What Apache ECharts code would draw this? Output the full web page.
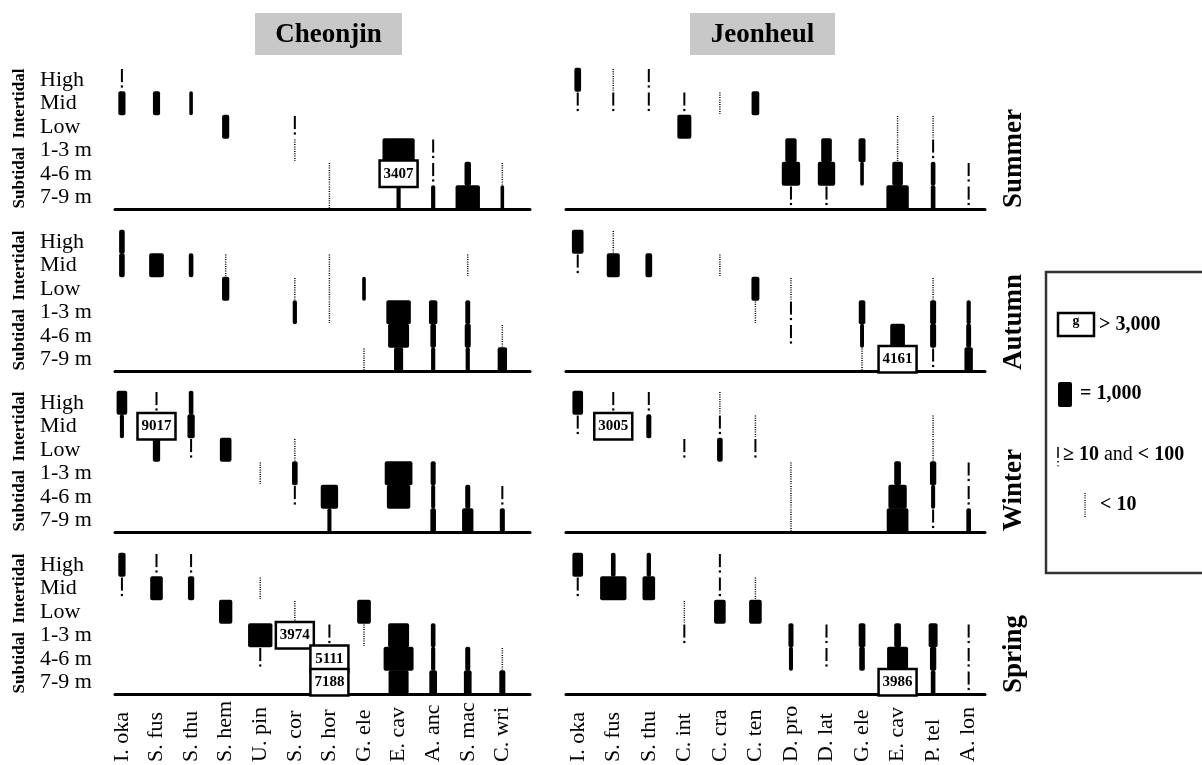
<!DOCTYPE html>
<html>
<head>
<meta charset="utf-8">
<script src="https://cdn.jsdelivr.net/npm/echarts@6/dist/echarts.min.js"></script>
<style>
html,body{margin:0;padding:0;background:#fff;}
#chart{width:1202px;height:765px;}
</style>
</head>
<body>
<div id="chart"></div>
<script>
// ---- categories ----
const sites = ['Cheonjin', 'Jeonheul'];
const seasons = ['Summer', 'Autumn', 'Winter', 'Spring'];
const zones = ['High', 'Mid', 'Low', '1-3 m', '4-6 m', '7-9 m'];
const speciesCheonjin = ['I. oka', 'S. fus', 'S. thu', 'S. hem', 'U. pin', 'S. cor', 'S. hor', 'G. ele', 'E. cav', 'A. anc', 'S. mac', 'C. wri'];
const speciesJeonheul = ['I. oka', 'S. fus', 'S. thu', 'C. int', 'C. cra', 'C. ten', 'D. pro', 'D. lat', 'G. ele', 'E. cav', 'P. tel', 'A. lon'];

// ---- data: [speciesIndex, zoneIndex, density] ; 5 = "< 10", 50 = ">= 10 and < 100" ----
const cheonjinSummer = [
  [0,0,50],[0,1,510],
  [1,1,510],
  [2,1,255],
  [3,2,510],
  [5,2,50],[5,3,5],
  [6,4,5],[6,5,5],
  [8,3,2300],[8,4,3407],[8,5,300],
  [9,3,50],[9,4,50],[9,5,300],
  [10,4,460],[10,5,1740],
  [11,4,5],[11,5,255]
];
const cheonjinAutumn = [
  [0,0,400],[0,1,400],
  [1,1,1050],
  [2,1,330],
  [3,1,5],[3,2,520],
  [5,2,5],[5,3,300],
  [6,1,5],[6,2,5],[6,3,5],
  [7,2,260],[7,5,5],
  [8,3,1750],[8,4,1500],[8,5,650],
  [9,3,600],[9,4,400],[9,5,300],
  [10,1,5],[10,3,350],[10,4,430],[10,5,300],
  [11,4,5],[11,5,670]
];
const cheonjinWinter = [
  [0,0,760],[0,1,290],
  [1,0,50],[1,1,9017],[1,2,520],
  [2,0,330],[2,1,520],[2,2,50],
  [3,2,830],
  [4,3,5],
  [5,2,5],[5,3,400],[5,4,50],
  [6,4,1240],[6,5,290],
  [8,3,1980],[8,4,1670],
  [9,3,360],[9,4,290],[9,5,400],
  [10,4,360],[10,5,810],
  [11,4,50],[11,5,360]
];
const cheonjinSpring = [
  [0,0,520],[0,1,50],
  [1,0,50],[1,1,900],
  [2,0,50],[2,1,450],
  [3,2,950],
  [4,1,5],[4,3,1740],[4,4,50],
  [5,2,5],[5,3,3974],
  [6,3,50],[6,4,5111],[6,5,7188],
  [7,2,980],[7,3,5],
  [8,3,1500],[8,4,2140],[8,5,1430],
  [9,3,330],[9,4,300],[9,5,550],
  [10,4,360],[10,5,550],
  [11,4,5],[11,5,430]
];
const jeonheulSummer = [
  [0,0,480],[0,1,50],
  [1,0,5],[1,1,50],
  [2,0,50],[2,1,50],
  [3,1,50],[3,2,1000],
  [4,1,5],
  [5,1,550],
  [6,3,810],[6,4,1310],[6,5,50],
  [7,3,760],[7,4,1240],[7,5,50],
  [8,3,500],[8,4,260],
  [9,2,5],[9,3,5],[9,4,760],[9,5,1600],
  [10,2,5],[10,3,50],[10,4,330],[10,5,330],
  [11,4,50],[11,5,50]
];
const jeonheulAutumn = [
  [0,0,830],[0,1,50],
  [1,0,5],[1,1,930],
  [2,1,480],
  [4,1,5],
  [5,2,570],[5,3,5],
  [6,2,5],[6,3,50],[6,4,50],
  [8,3,470],[8,4,280],[8,5,5],
  [9,4,1050],[9,5,4161],
  [10,2,5],[10,3,430],[10,4,430],[10,5,50],
  [11,3,300],[11,4,350],[11,5,600]
];
const jeonheulWinter = [
  [0,0,760],[0,1,50],
  [1,0,50],[1,1,3005],
  [2,0,50],[2,1,360],
  [3,2,50],
  [4,0,5],[4,1,50],[4,2,400],
  [5,1,5],[5,2,50],
  [6,3,5],[6,4,5],[6,5,5],
  [9,3,480],[9,4,1310],[9,5,1550],
  [10,1,5],[10,2,5],[10,3,450],[10,4,290],[10,5,50],
  [11,3,50],[11,4,50],[11,5,330]
];
const jeonheulSpring = [
  [0,0,760],[0,1,50],
  [1,0,330],[1,1,1880],
  [2,0,310],[2,1,900],
  [3,2,5],[3,3,50],
  [4,0,50],[4,1,50],[4,2,830],
  [5,1,5],[5,2,900],
  [6,3,360],[6,4,290],
  [7,3,50],[7,4,50],
  [8,3,480],[8,4,400],
  [9,3,480],[9,4,1500],[9,5,3986],
  [10,3,640],[10,4,450],[10,5,330],
  [11,3,50],[11,4,50],[11,5,50]
];

// ---- layout ----
const SERIF = '"Liberation Serif", "Times New Roman", serif';
const PX_PER_1000 = 14;
const rowTops = [68, 230, 391, 553];
const PANEL_H = 141;
const colLeft = [115, 566];
const colWidth = [415, 419];
const colMin = [-0.2, -0.33];
const colMax = [11.8, 11.46];
const panelData = [
  [cheonjinSummer, jeonheulSummer],
  [cheonjinAutumn, jeonheulAutumn],
  [cheonjinWinter, jeonheulWinter],
  [cheonjinSpring, jeonheulSpring]
];
const speciesBySite = [speciesCheonjin, speciesJeonheul];

function renderKite(params, api) {
  const i = api.value(0), z = api.value(1), v = api.value(2);
  const p = api.coord([i, z]);
  const band = api.size([0, 1])[1];
  const top = p[1] - band / 2, bottom = p[1] + band / 2;
  if (v < 10) {
    return {type: 'line', shape: {x1: p[0], y1: top + 1, x2: p[0], y2: bottom - 1},
      style: {stroke: '#000', lineWidth: 1.5, lineDash: [1, 1.3]}};
  }
  if (v < 100) {
    return {type: 'group', children: [
      {type: 'line', shape: {x1: p[0], y1: top + 1, x2: p[0], y2: top + band * 0.6},
        style: {stroke: '#000', lineWidth: 2}},
      {type: 'rect', shape: {x: p[0] - 1.1, y: top + band * 0.74, width: 2.2, height: 2.2},
        style: {fill: '#000'}}
    ]};
  }
  if (v <= 3000) {
    const w = Math.max(1.5, v / 1000 * PX_PER_1000);
    return {type: 'rect', shape: {x: p[0] - w / 2, y: top - 0.3, width: w, height: band + 0.6, r: 2},
      style: {fill: '#000'}};
  }
  return {type: 'rect', z2: 10,
    shape: {x: p[0] - 19, y: top - 1.5, width: 38, height: band + 3},
    style: {fill: '#fff', stroke: '#000', lineWidth: 2.5},
    textContent: {z2: 11, style: {text: String(v), fontSize: 15, fontWeight: 'bold', fontFamily: SERIF, fill: '#000'}},
    textConfig: {position: 'inside'}};
}

const grids = [], xAxes = [], yAxes = [], series = [];
let k = 0;
for (let r = 0; r < 4; r++) {
  for (let c = 0; c < 2; c++) {
    grids.push({left: colLeft[c], top: rowTops[r], width: colWidth[c], height: PANEL_H, outerBoundsMode: 'none', containLabel: false});
    const names = speciesBySite[c];
    xAxes.push({
      gridIndex: k, type: 'value', min: colMin[c], max: colMax[c],
      axisLine: {show: true, onZero: false, lineStyle: {color: '#000', width: 3}},
      axisTick: {show: false}, splitLine: {show: false},
      axisLabel: r === 3 ? {
        show: true, customValues: names.map((_, idx) => idx),
        formatter: v => names[Math.round(v)], hideOverlap: false,
        rotate: 90, align: 'left', verticalAlign: 'middle', margin: 68,
        fontFamily: SERIF, fontSize: 22, color: '#000'
      } : {show: false}
    });
    yAxes.push({
      gridIndex: k, type: 'category', data: zones, inverse: true,
      axisLine: {show: false}, axisTick: {show: false}, splitLine: {show: false},
      axisLabel: c === 0 ? {show: true, interval: 0, hideOverlap: false, align: 'left', margin: colLeft[0] - 40, fontFamily: SERIF, fontSize: 22, color: '#000'} : {show: false}
    });
    series.push({
      type: 'custom', name: sites[c] + ' ' + seasons[r], coordinateSystem: 'cartesian2d',
      xAxisIndex: k, yAxisIndex: k, data: panelData[r][c], renderItem: renderKite,
      encode: {x: 0, y: 1}, clip: false, silent: true
    });
    k++;
  }
}

const graphics = [];
// titles
[[255, 402], [690, 835]].forEach((b, c) => {
  graphics.push({type: 'rect', shape: {x: b[0], y: 13, width: b[1] - b[0], height: 42}, style: {fill: '#c8c8c8'}});
  graphics.push({type: 'text', x: (b[0] + b[1]) / 2, y: 35,
    style: {text: sites[c], fontSize: 27, fontWeight: 'bold', fontFamily: SERIF, fill: '#000',
      align: 'center', verticalAlign: 'middle', textAlign: 'center', textVerticalAlign: 'middle'}});
});
// rotated side labels
for (let r = 0; r < 4; r++) {
  graphics.push({type: 'text', x: 20, y: rowTops[r] + PANEL_H / 2, rotation: Math.PI / 2,
    style: {text: 'Subtidal  Intertidal', fontSize: 17, fontWeight: 'bold', fontFamily: SERIF, fill: '#000',
      align: 'center', verticalAlign: 'middle', textAlign: 'center', textVerticalAlign: 'middle'}});
  graphics.push({type: 'text', x: 1014, y: rowTops[r] + PANEL_H - 1, rotation: Math.PI / 2,
    style: {text: seasons[r], fontSize: 27, fontWeight: 'bold', fontFamily: SERIF, fill: '#000',
      align: 'left', verticalAlign: 'middle', textAlign: 'left', textVerticalAlign: 'middle'}});
}
// legend
const LF = {fontSize: 20, fontWeight: 'bold', fontFamily: SERIF, fill: '#000', align: 'left', verticalAlign: 'middle', textAlign: 'left', textVerticalAlign: 'middle'};
graphics.push({type: 'rect', shape: {x: 1046, y: 272, width: 170, height: 301}, style: {fill: 'none', stroke: '#333', lineWidth: 2.5}});
graphics.push({type: 'rect', shape: {x: 1058, y: 313, width: 36, height: 23}, style: {fill: '#fff', stroke: '#000', lineWidth: 2.5}});
graphics.push({type: 'text', x: 1076, y: 321, style: Object.assign({}, LF, {text: 'g', fontSize: 14, align: 'center', textAlign: 'center'})});
graphics.push({type: 'text', x: 1099, y: 325, style: Object.assign({}, LF, {text: '> 3,000'})});
graphics.push({type: 'rect', shape: {x: 1058, y: 382, width: 14, height: 25, r: 2}, style: {fill: '#000'}});
graphics.push({type: 'text', x: 1080, y: 394, style: Object.assign({}, LF, {text: '= 1,000'})});
graphics.push({type: 'line', shape: {x1: 1058, y1: 447, x2: 1058, y2: 458}, style: {stroke: '#000', lineWidth: 1.5}});
graphics.push({type: 'rect', shape: {x: 1057.3, y: 461, width: 1.5, height: 1.5}, style: {fill: '#000'}});
graphics.push({type: 'rect', shape: {x: 1057.3, y: 465, width: 1.5, height: 1.5}, style: {fill: '#555'}});
graphics.push({type: 'text', x: 1063, y: 455, style: Object.assign({}, LF, {
  text: '{b|≥ 10} {n|and} {b|< 100}',
  rich: {b: {fontSize: 20, fontWeight: 'bold', fontFamily: SERIF, fill: '#000'}, n: {fontSize: 20, fontWeight: 'normal', fontFamily: SERIF, fill: '#000'}}
})});
graphics.push({type: 'line', shape: {x1: 1085, y1: 493, x2: 1085, y2: 517}, style: {stroke: '#000', lineWidth: 1.3, lineDash: [1, 1.3]}});
graphics.push({type: 'text', x: 1100, y: 505, style: Object.assign({}, LF, {text: '< 10'})});

const chart = echarts.init(document.getElementById('chart'), null, {renderer: 'canvas'});
chart.setOption({
  animation: false,
  backgroundColor: '#fff',
  grid: grids, xAxis: xAxes, yAxis: yAxes, series: series,
  graphic: graphics
});
</script>
</body>
</html>
